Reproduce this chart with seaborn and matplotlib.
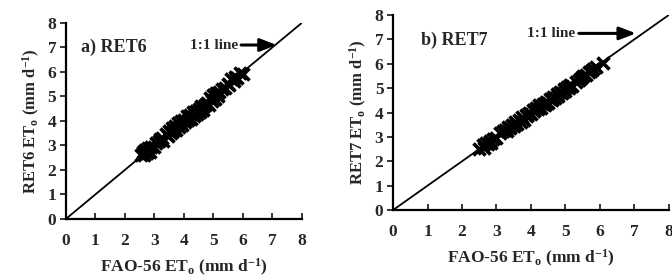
import matplotlib
matplotlib.use("Agg")
import matplotlib.pyplot as plt
import seaborn as sns
import pandas as pd

# ---- data ----
fao_a = [2.55, 2.6, 2.65, 2.7, 2.75, 2.8, 2.85, 2.9, 3.0, 3.05, 3.15, 3.2, 3.25, 3.3,
         3.4, 3.45, 3.5, 3.55, 3.6, 3.65, 3.7, 3.75, 3.8, 3.85, 3.9, 3.95, 4.0, 4.05,
         4.1, 4.15, 4.2, 4.25, 4.3, 4.35, 4.4, 4.45, 4.5, 4.55, 4.6, 4.65, 4.7, 4.75,
         4.8, 4.85, 4.9, 4.95, 5.0, 5.05, 5.1, 5.15, 5.2, 5.3, 5.4, 5.5, 5.55, 5.6,
         5.7, 5.75, 5.8, 5.9, 6.0]
ret6 = [2.6, 2.75, 2.6, 2.8, 2.7, 2.9, 2.75, 2.95, 2.95, 3.1, 3.2, 3.25, 3.3, 3.2,
        3.45, 3.4, 3.6, 3.5, 3.7, 3.6, 3.8, 3.65, 3.9, 3.75, 4.0, 3.85, 4.05, 3.95,
        4.2, 4.05, 4.25, 4.1, 4.35, 4.2, 4.4, 4.3, 4.5, 4.35, 4.6, 4.45, 4.6, 4.7,
        4.75, 4.65, 4.95, 4.8, 5.05, 4.9, 5.15, 5.0, 5.2, 5.3, 5.35, 5.5, 5.45, 5.7,
        5.65, 5.8, 5.75, 5.95, 5.9]
fao_b = [2.5, 2.6, 2.65, 2.7, 2.75, 2.8, 2.85, 2.9, 3.0, 3.1, 3.2, 3.25, 3.3, 3.35,
         3.4, 3.45, 3.5, 3.55, 3.6, 3.65, 3.7, 3.75, 3.8, 3.85, 3.9, 3.95, 4.0, 4.05,
         4.1, 4.15, 4.2, 4.25, 4.3, 4.35, 4.4, 4.45, 4.5, 4.55, 4.6, 4.65, 4.7, 4.75,
         4.8, 4.85, 4.9, 4.95, 5.0, 5.05, 5.1, 5.15, 5.2, 5.3, 5.4, 5.45, 5.5, 5.6,
         5.7, 5.75, 5.8, 5.9, 6.1]
ret7 = [2.5, 2.65, 2.55, 2.75, 2.7, 2.85, 2.75, 2.9, 2.95, 3.15, 3.25, 3.3, 3.25, 3.4,
        3.35, 3.5, 3.45, 3.6, 3.55, 3.7, 3.6, 3.8, 3.7, 3.9, 3.85, 4.0, 3.95, 4.1,
        4.05, 4.2, 4.15, 4.3, 4.2, 4.35, 4.3, 4.45, 4.4, 4.55, 4.5, 4.65, 4.6, 4.75,
        4.7, 4.85, 4.8, 4.95, 4.9, 5.05, 5.0, 5.15, 5.1, 5.25, 5.35, 5.4, 5.5, 5.55,
        5.65, 5.7, 5.8, 5.85, 6.05]
ticks = [0, 1, 2, 3, 4, 5, 6, 7, 8]

sns.set_theme(style="ticks")
plt.rcParams['font.family'] = ['Liberation Serif', 'DejaVu Serif']
plt.rcParams['font.weight'] = 'bold'
plt.rcParams['mathtext.fontset'] = 'custom'
plt.rcParams['mathtext.rm'] = 'Liberation Serif:bold'
plt.rcParams['mathtext.bf'] = 'Liberation Serif:bold'
plt.rcParams['mathtext.it'] = 'Liberation Serif:bold'
plt.rcParams['axes.unicode_minus'] = False

fig = plt.figure(figsize=(6.72, 2.8), dpi=100)
ax1 = fig.add_axes([0.098, 0.218, 0.351, 0.70])
ax2 = fig.add_axes([0.585, 0.25, 0.41, 0.696])

panels = [
    (ax1, fao_a, ret6, "RET6 ET$_\\mathregular{o}$ (mm d$^\\mathregular{-1}$)", "a) RET6", (0.5, 7.0), (4.2, 7.1), (7.15, 7.1)),
    (ax2, fao_b, ret7, "RET7 ET$_\\mathregular{o}$ (mm d$^\\mathregular{-1}$)", "b) RET7", (0.8, 6.95), (3.9, 7.25), (7.05, 7.25)),
]

for ax, x, y, ylab, title, tpos, lpos, apos in panels:
    df = pd.DataFrame({"x": x, "y": y})
    ax.axline((0, 0), slope=1, color="black", lw=1.3, zorder=1)
    sns.scatterplot(data=df, x="x", y="y", ax=ax, marker="x", s=75,
                    color="black", linewidth=2.6, zorder=2)
    ax.set_xlim(0, 8)
    ax.set_ylim(0, 8)
    ax.set_xticks(ticks)
    ax.set_yticks(ticks)
    ax.set_xticklabels([str(t) for t in ticks], fontweight='bold', fontsize=12.5)
    ax.set_yticklabels([str(t) for t in ticks], fontweight='bold', fontsize=12.5)
    ax.tick_params(axis='x', direction='in', length=4, width=1.3, pad=10)
    ax.tick_params(axis='y', direction='out', length=4, width=1.3, pad=3)
    for s in ["left", "bottom"]:
        ax.spines[s].set_linewidth(1.6)
        ax.spines[s].set_color("black")
    sns.despine(ax=ax)
    ax.set_xlabel("FAO-56 ET$_\\mathregular{o}$ (mm d$^\\mathregular{-1}$)", fontsize=12.5,
                  fontweight='bold', labelpad=6)
    ax.set_ylabel(ylab, fontsize=12, fontweight='bold', labelpad=4)
    ax.text(tpos[0], tpos[1], title, fontsize=13, fontweight='bold', va='center')
    ax.annotate("1:1 line", xy=apos, xytext=lpos, fontsize=11, fontweight='bold',
                va='center', ha='left',
                arrowprops=dict(arrowstyle="-|>,head_length=0.9,head_width=0.35",
                                color="black", lw=2.2, shrinkA=0, shrinkB=0))

fig.savefig("out.png", dpi=100)
